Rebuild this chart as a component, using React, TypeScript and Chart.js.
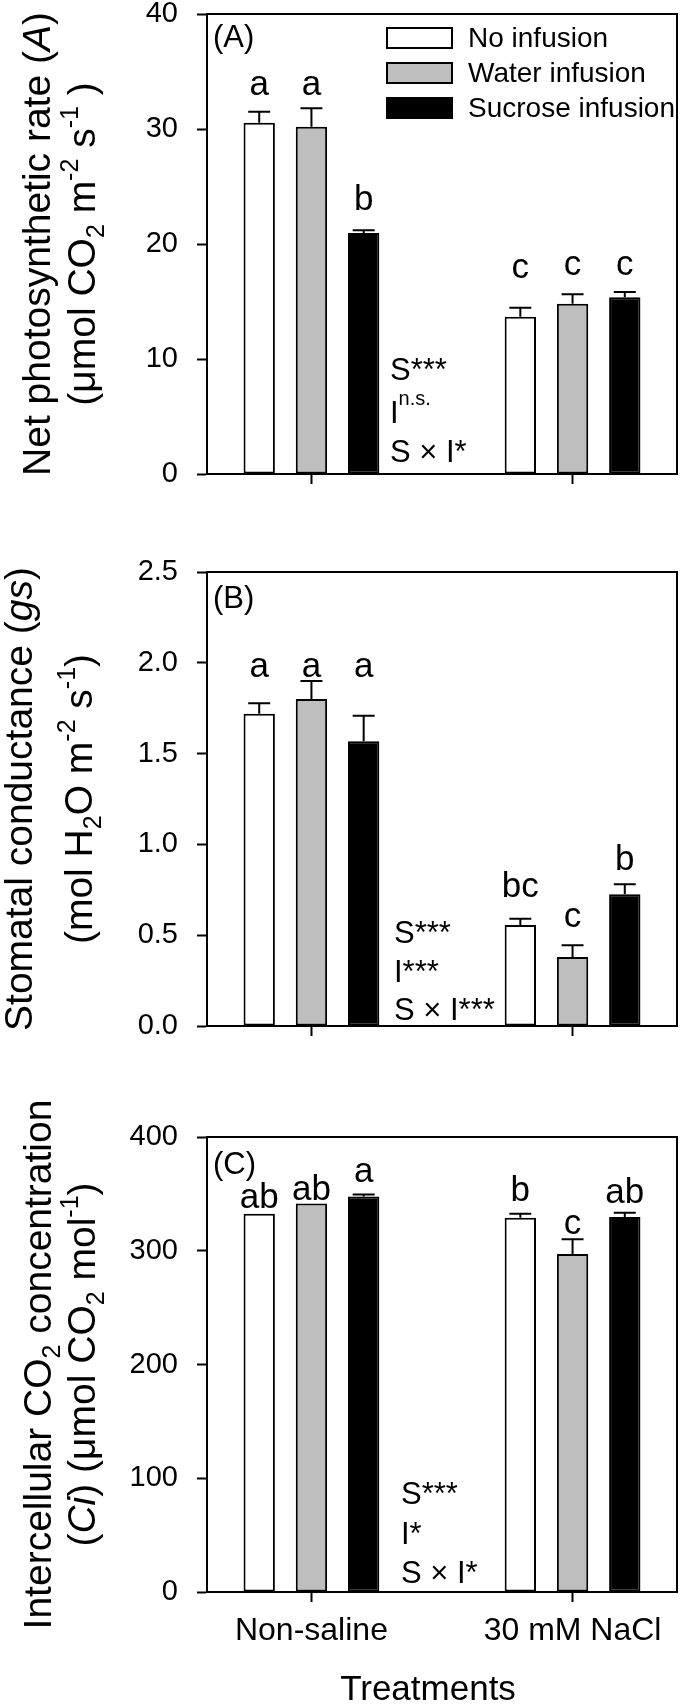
import React, { useEffect, useRef } from "react";
import { Chart, registerables } from "chart.js";

Chart.register(...registerables);

const FONT = '"Liberation Sans", Arial, Helvetica, sans-serif';

// ---------- shared categories ----------
const treatments = ["Non-saline", "30 mM NaCl"];
const treatmentPos = [1, 2];
const infusions = ["No infusion", "Water infusion", "Sucrose infusion"];
const infusionColors = ["#ffffff", "#bebebe", "#000000"];

// ---------- (A) Net photosynthetic rate ----------
const photoTicks = [0, 10, 20, 30, 40];
const photoNoInfusion = [30.55, 13.68];
const photoWater = [30.2, 14.81];
const photoSucrose = [20.96, 15.36];
const photoNoInfusionSE = [0.95, 0.78];
const photoWaterSE = [1.6, 0.81];
const photoSucroseSE = [0.24, 0.47];
const photoLetters = [["a", "c"], ["a", "c"], ["b", "c"]];
const photoLetterAt = [[33.0, 17.05], [33.0, 17.3], [22.96, 17.3]];

// ---------- (B) Stomatal conductance ----------
const gsTicks = [0, 0.5, 1.0, 1.5, 2.0, 2.5];
const gsNoInfusion = [1.72, 0.556];
const gsWater = [1.8, 0.38];
const gsSucrose = [1.568, 0.726];
const gsNoInfusionSE = [0.057, 0.035];
const gsWaterSE = [0.1, 0.064];
const gsSucroseSE = [0.14, 0.055];
const gsLetters = [["a", "bc"], ["a", "c"], ["a", "b"]];
const gsLetterAt = [[1.92, 0.71], [1.92, 0.545], [1.92, 0.86]];

// ---------- (C) Intercellular CO2 ----------
const ciTicks = [0, 100, 200, 300, 400];
const ciNoInfusion = [332.6, 329.0];
const ciWater = [341.6, 297.2];
const ciSucrose = [347.6, 329.6];
const ciNoInfusionSE = [0, 3.6];
const ciWaterSE = [0, 13.0];
const ciSucroseSE = [1.9, 3.8];
const ciLetters = [["ab", "b"], ["ab", "c"], ["a", "ab"]];
const ciLetterAt = [[337.6, 343.8], [345.0, 315.0], [360.7, 342.0]];

type Seg = { t: string; it?: boolean; sub?: boolean; sup?: boolean };

const photoStats: Seg[][] = [
  [{ t: "S***" }],
  [{ t: "I" }, { t: "n.s.", sup: true }],
  [{ t: "S × I*" }],
];
const gsStats: Seg[][] = [[{ t: "S***" }], [{ t: "I***" }], [{ t: "S × I***" }]];
const ciStats: Seg[][] = [[{ t: "S***" }], [{ t: "I*" }], [{ t: "S × I*" }]];

const photoTitle: Seg[][] = [
  [{ t: "Net photosynthetic rate (" }, { t: "A", it: true }, { t: ")" }],
  [
    { t: "(μmol CO" }, { t: "2", sub: true }, { t: " m" }, { t: "-2", sup: true },
    { t: " s" }, { t: "-1", sup: true }, { t: " )" },
  ],
];
const gsTitle: Seg[][] = [
  [{ t: "Stomatal conductance (" }, { t: "gs", it: true }, { t: ")" }],
  [
    { t: "(mol H" }, { t: "2", sub: true }, { t: "O m" }, { t: "-2", sup: true },
    { t: " s" }, { t: "-1", sup: true }, { t: ")" },
  ],
];
const ciTitle: Seg[][] = [
  [{ t: "Intercellular CO" }, { t: "2", sub: true }, { t: " concentration" }],
  [
    { t: "(" }, { t: "Ci", it: true }, { t: ") (μmol CO" }, { t: "2", sub: true },
    { t: " mol" }, { t: "-1", sup: true }, { t: ")" },
  ],
];

type Panel = {
  key: string;
  top: number;
  height: number;
  areaTop: number;
  areaBottom: number;
  ticks: number[];
  decimals: number;
  values: number[][];
  errors: number[][];
  letters: string[][];
  letterAt: number[][];
  label: string;
  labelDy: number;
  title: Seg[][];
  titleX: number[];
  stats: Seg[][];
  statsX: number;
  statsDy: number[];
  legend: boolean;
  showX: boolean;
};

const panels: Panel[] = [
  {
    key: "A", top: 0, height: 520, areaTop: 14, areaBottom: 474,
    ticks: photoTicks, decimals: 0,
    values: [photoNoInfusion, photoWater, photoSucrose],
    errors: [photoNoInfusionSE, photoWaterSE, photoSucroseSE],
    letters: photoLetters, letterAt: photoLetterAt,
    label: "(A)", labelDy: 33, title: photoTitle, titleX: [50, 95],
    stats: photoStats, statsX: 390, statsDy: [-94, -51, -12],
    legend: true, showX: false,
  },
  {
    key: "B", top: 520, height: 540, areaTop: 52, areaBottom: 506,
    ticks: gsTicks, decimals: 1,
    values: [gsNoInfusion, gsWater, gsSucrose],
    errors: [gsNoInfusionSE, gsWaterSE, gsSucroseSE],
    letters: gsLetters, letterAt: gsLetterAt,
    label: "(B)", labelDy: 36, title: gsTitle, titleX: [32, 92],
    stats: gsStats, statsX: 394, statsDy: [-83, -44, -6],
    legend: false, showX: false,
  },
  {
    key: "C", top: 1060, height: 647, areaTop: 77, areaBottom: 532,
    ticks: ciTicks, decimals: 0,
    values: [ciNoInfusion, ciWater, ciSucrose],
    errors: [ciNoInfusionSE, ciWaterSE, ciSucroseSE],
    letters: ciLetters, letterAt: ciLetterAt,
    label: "(C)", labelDy: 37, title: ciTitle, titleX: [51, 95],
    stats: ciStats, statsX: 401, statsDy: [-88, -48, -9],
    legend: false, showX: true,
  },
];

function drawRich(
  ctx: CanvasRenderingContext2D,
  segs: Seg[],
  size: number,
  x: number,
  y: number,
  opts: { rotate?: boolean; center?: boolean; small?: number; supRaise?: number; subDrop?: number }
) {
  const small = opts.small ?? Math.round(size * 0.64);
  const supRaise = opts.supRaise ?? size * 0.42;
  const subDrop = opts.subDrop ?? size * 0.22;
  const fontOf = (s: Seg) =>
    `${s.it ? "italic " : ""}${s.sub || s.sup ? small : size}px ${FONT}`;
  let total = 0;
  for (const s of segs) {
    ctx.font = fontOf(s);
    total += ctx.measureText(s.t).width;
  }
  ctx.save();
  ctx.translate(x, y);
  if (opts.rotate) ctx.rotate(-Math.PI / 2);
  ctx.textAlign = "left";
  ctx.textBaseline = "alphabetic";
  ctx.fillStyle = "#000";
  let cx = opts.center ? -total / 2 : 0;
  for (const s of segs) {
    ctx.font = fontOf(s);
    const dy = s.sub ? subDrop : s.sup ? -supRaise : 0;
    ctx.fillText(s.t, cx, dy);
    cx += ctx.measureText(s.t).width;
  }
  ctx.restore();
}

function decorPlugin(p: Panel) {
  return {
    id: "decor" + p.key,
    afterDatasetsDraw(chart: any) {
      const { ctx, chartArea: a, scales } = chart;
      const ys = scales.y;
      ctx.save();
      ctx.strokeStyle = "#000";
      ctx.lineWidth = 2;
      // frame top and right
      ctx.beginPath();
      ctx.moveTo(a.left, a.top);
      ctx.lineTo(a.right, a.top);
      ctx.lineTo(a.right, a.bottom);
      ctx.stroke();

      // error bars
      p.errors.forEach((errs, s) => {
        const meta = chart.getDatasetMeta(s);
        errs.forEach((e, g) => {
          if (!e) return;
          const bar = meta.data[g];
          const topPx = ys.getPixelForValue(p.values[s][g] + e);
          ctx.beginPath();
          ctx.moveTo(bar.x, bar.y);
          ctx.lineTo(bar.x, topPx);
          ctx.moveTo(bar.x - 11, topPx);
          ctx.lineTo(bar.x + 11, topPx);
          ctx.stroke();
        });
      });

      // significance letters
      ctx.fillStyle = "#000";
      ctx.font = `35px ${FONT}`;
      ctx.textAlign = "center";
      ctx.textBaseline = "alphabetic";
      p.letters.forEach((row, s) => {
        const meta = chart.getDatasetMeta(s);
        row.forEach((L, g) => {
          const bar = meta.data[g];
          ctx.fillText(L, bar.x, ys.getPixelForValue(p.letterAt[s][g]));
        });
      });

      // panel label
      ctx.textAlign = "left";
      ctx.font = `31px ${FONT}`;
      ctx.fillText(p.label, 213, a.top + p.labelDy);

      // statistics
      p.stats.forEach((line, i) => {
        drawRich(ctx, line, 31, p.statsX, a.bottom + p.statsDy[i], {
          small: 20,
          supRaise: 18,
        });
      });

      // y-axis title (two lines, rotated)
      const cy = (a.top + a.bottom) / 2;
      p.title.forEach((line, i) => {
        drawRich(ctx, line, 39, p.titleX[i], cy, {
          rotate: true,
          center: true,
          small: 25,
          supRaise: 17,
          subDrop: 9,
        });
      });

      // legend
      if (p.legend) {
        const rows = [28, 63, 98];
        infusions.forEach((name, s) => {
          const y0 = rows[s];
          ctx.fillStyle = infusionColors[s];
          ctx.fillRect(387, y0, 65, 20);
          ctx.strokeStyle = "#000";
          ctx.lineWidth = 2;
          ctx.strokeRect(387, y0, 65, 20);
          ctx.fillStyle = "#000";
          ctx.font = `28px ${FONT}`;
          ctx.textAlign = "left";
          ctx.textBaseline = "middle";
          ctx.fillText(name, 468, y0 + 11);
        });
      }

      // x-axis title
      if (p.showX) {
        ctx.fillStyle = "#000";
        ctx.font = `35px ${FONT}`;
        ctx.textAlign = "center";
        ctx.textBaseline = "alphabetic";
        ctx.fillText("Treatments", 428, 640);
      }
      ctx.restore();
    },
  };
}

function makeChart(canvas: HTMLCanvasElement, p: Panel) {
  const datasets = infusions.map((name, s) => ({
    label: name,
    data: treatmentPos.map((x, g) => ({ x, y: p.values[s][g] })),
    backgroundColor: infusionColors[s],
    borderColor: "#000",
    borderWidth: 2,
    borderSkipped: false as any,
    categoryPercentage: 0.6,
    barPercentage: 0.6,
  }));
  return new Chart(canvas, {
    type: "bar",
    data: { datasets } as any,
    options: {
      responsive: false,
      maintainAspectRatio: false,
      animation: false,
      devicePixelRatio: 1,
      layout: { padding: { left: 0, right: 7, top: p.areaTop, bottom: 0 } },
      plugins: { legend: { display: false }, tooltip: { enabled: false } },
      scales: {
        x: {
          type: "linear",
          min: 0.6,
          max: 2.4,
          offset: false,
          afterBuildTicks: (s: any) => {
            s.ticks = treatmentPos.map((v) => ({ value: v }));
          },
          afterFit: (s: any) => {
            s.height = p.height - p.areaBottom;
            s.paddingLeft = 0;
            s.paddingRight = 0;
            s.paddingTop = 0;
            s.paddingBottom = 0;
          },
          ticks: {
            display: p.showX,
            autoSkip: false,
            maxRotation: 0,
            minRotation: 0,
            padding: 10,
            color: "#000",
            font: { family: FONT, size: 32 },
            callback: (v: any) => treatments[treatmentPos.indexOf(Number(v))] ?? "",
          },
          grid: {
            offset: false,
            drawOnChartArea: false,
            drawTicks: true,
            tickLength: 10,
            tickWidth: 2,
            tickColor: "#000",
            color: "#000",
          },
          border: { display: true, color: "#000", width: 2 },
        },
        y: {
          type: "linear",
          min: p.ticks[0],
          max: p.ticks[p.ticks.length - 1],
          afterBuildTicks: (s: any) => {
            s.ticks = p.ticks.map((v) => ({ value: v }));
          },
          afterFit: (s: any) => {
            s.width = 207;
            s.paddingTop = 0;
            s.paddingBottom = 0;
            s.paddingLeft = 0;
            s.paddingRight = 0;
          },
          ticks: {
            padding: 19,
            color: "#000",
            font: { family: FONT, size: 29 },
            callback: (v: any) => Number(v).toFixed(p.decimals),
          },
          grid: {
            drawOnChartArea: false,
            drawTicks: true,
            tickLength: 10,
            tickWidth: 2,
            tickColor: "#000",
            color: "#000",
          },
          border: { display: true, color: "#000", width: 2 },
        },
      },
    } as any,
    plugins: [decorPlugin(p)],
  });
}

export default function App() {
  const r0 = useRef<HTMLCanvasElement>(null);
  const r1 = useRef<HTMLCanvasElement>(null);
  const r2 = useRef<HTMLCanvasElement>(null);
  const refs = [r0, r1, r2];

  useEffect(() => {
    const charts = panels.map((p, i) => makeChart(refs[i].current as HTMLCanvasElement, p));
    return () => charts.forEach((c) => c.destroy());
  }, []);

  return (
    <div
      style={{
        position: "absolute",
        left: 0,
        top: 0,
        width: 684,
        height: 1707,
        background: "#fff",
        overflow: "hidden",
      }}
    >
      {panels.map((p, i) => (
        <canvas
          key={p.key}
          ref={refs[i]}
          width={684}
          height={p.height}
          style={{ position: "absolute", left: 0, top: p.top, width: 684, height: p.height }}
        />
      ))}
    </div>
  );
}
